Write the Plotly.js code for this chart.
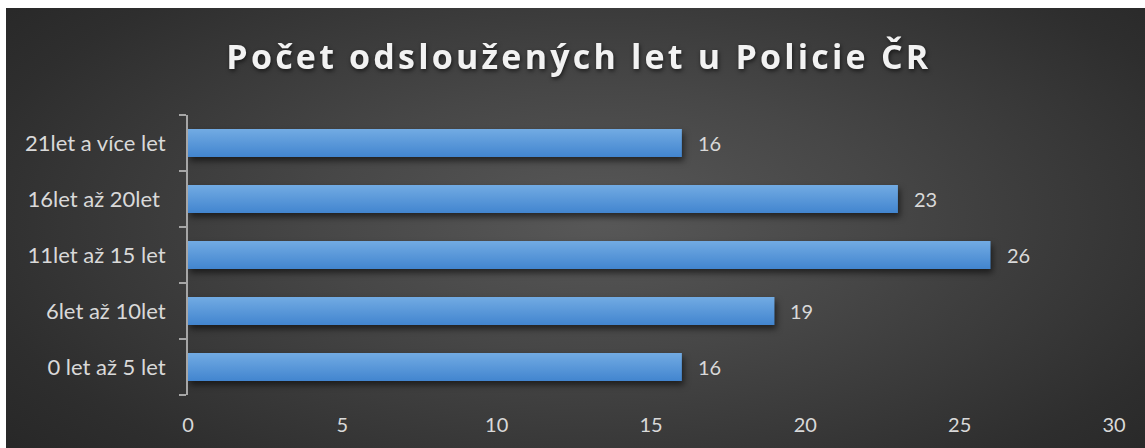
<!DOCTYPE html>
<html>
<head>
<meta charset="utf-8">
<script src="https://cdn.plot.ly/plotly-3.0.1.min.js"></script>
<style>
  html, body { margin: 0; padding: 0; background: #ffffff; width: 1145px; height: 448px; overflow: hidden; }
  #wrap { position: absolute; left: 6px; top: 8px; width: 1139px; height: 440px;
    background: radial-gradient(ellipse 70% 85% at 52% 48%, #585858 0%, #474747 35%, #2e2e2e 80%, #262626 100%); }
  #chart { width: 1139px; height: 440px; }
  .bars path { fill: url(#barGrad) !important; filter: drop-shadow(2px 4px 3px rgba(0,0,0,0.55)); }
  .gtitle { letter-spacing: 3.2px; filter: drop-shadow(1px 2px 2px rgba(0,0,0,0.6)); }
</style>
</head>
<body>
<svg width="0" height="0" style="position:absolute">
  <defs>
    <linearGradient id="barGrad" x1="0" y1="0" x2="0" y2="1">
      <stop offset="0%" stop-color="#72abe3"/>
      <stop offset="100%" stop-color="#4285cf"/>
    </linearGradient>
  </defs>
</svg>
<div id="wrap"><div id="chart"></div></div>
<script>
const categories = ["0 let až 5 let", "6let až 10let", "11let až 15 let", "16let až 20let ", "21let a více let"];
const values = [16, 19, 26, 23, 16];
const xTicks = [0, 5, 10, 15, 20, 25, 30];
const titleText = "Počet odsloužených let u Policie ČR";

const labelColor = "#d9d9d9";
const fontFam = "Lato, 'Open Sans', sans-serif";

const trace = {
  type: "bar",
  orientation: "h",
  x: values,
  y: categories,
  width: 0.5,
  marker: { color: "#5b9bd5", line: { width: 0 } },
  hoverinfo: "none"
};

const annotations = values.map((v, i) => ({
  x: v, y: categories[i], xref: "x", yref: "y",
  text: String(v), showarrow: false, xanchor: "left", xshift: 14,
  font: { family: fontFam, size: 20, color: labelColor }
}));

const layout = {
  width: 1139, height: 440,
  paper_bgcolor: "rgba(0,0,0,0)",
  plot_bgcolor: "rgba(0,0,0,0)",
  margin: { l: 182, r: 31, t: 107, b: 53 },
  showlegend: false,
  title: {
    text: "<b>" + titleText + "</b>",
    font: { family: "'Open Sans', sans-serif", size: 34, color: "#f2f2f2" },
    x: 0.503, xanchor: "center", xref: "container",
    y: 1 - 49 / 440, yref: "container", yanchor: "middle"
  },
  xaxis: {
    range: [0, 30],
    tickvals: xTicks,
    ticktext: xTicks.map(String),
    showgrid: false, zeroline: false, showline: false,
    ticks: "outside", ticklen: 12, tickcolor: "rgba(0,0,0,0)",
    tickfont: { family: fontFam, size: 20, color: labelColor },
    fixedrange: true
  },
  yaxis: {
    type: "category",
    categoryarray: categories,
    showline: true, linecolor: "#a6a6a6", linewidth: 2,
    ticks: "outside", tickson: "boundaries", ticklen: 7, tickcolor: "#a6a6a6", tickwidth: 2,
    showgrid: false, zeroline: false,
    tickfont: { family: fontFam, size: 22, color: labelColor },
    ticklabelstandoff: 16,
    fixedrange: true
  },
  annotations: annotations
};

Plotly.newPlot("chart", [trace], layout, { displayModeBar: false, staticPlot: true });
</script>
</body>
</html>
